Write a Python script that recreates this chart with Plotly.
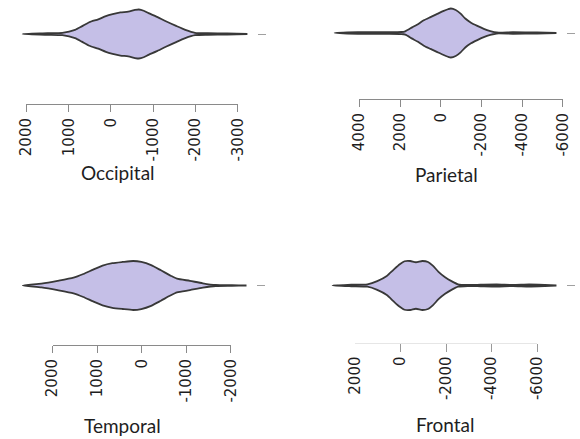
import plotly.graph_objects as go

W, H = 580, 439

# ---------------- data ----------------
region_names = ["Occipital", "Parietal", "Temporal", "Frontal"]

occipital_values = [2090, 1500, 1150, 850, 690, 510, 300, 120, -40, -225, -410, -570,
                    -660, -775, -890, -1075, -1300, -1530, -1760, -1990, -2290, -2750, -3230]
occipital_density = [0, .03, .05, .17, .31, .48, .60, .73, .81, .88, .91, .98,
                     1.0, .95, .85, .71, .52, .34, .17, .05, .03, .02, 0]

parietal_values = [5220, 4080, 2650, 1940, 1750, 1410, 1150, 840, 510, 200, -110, -350,
                   -490, -730, -970, -1200, -1480, -1790, -2110, -2430, -2740, -3540, -4730, -5680]
parietal_density = [0, .03, .03, .04, .07, .23, .35, .52, .65, .77, .89, .97,
                    1.0, .94, .79, .59, .42, .29, .17, .08, .02, .03, .02, 0]

temporal_values = [2670, 2250, 1890, 1530, 1310, 1090, 880, 660, 430, 190, 10, -210,
                   -430, -650, -790, -1080, -1370, -1660, -2020, -2350]
temporal_density = [0, .08, .19, .32, .47, .65, .81, .91, .96, 1.0, .96, .83,
                    .62, .40, .28, .19, .09, .02, .01, 0]

frontal_values = [2980, 2160, 1450, 1020, 600, 310, 30, -180, -430, -680, -960, -1210,
                  -1420, -1670, -1960, -2240, -2530, -2950, -3520, -4230, -4940, -5650, -6350, -6850]
frontal_density = [0, .03, .05, .18, .39, .64, .87, .99, 1.0, .95, 1.0, .96,
                   .81, .56, .34, .18, .05, .02, .03, .04, .02, .04, .02, 0]

occipital_ticks = [2000, 1000, 0, -1000, -2000, -3000]
parietal_ticks = [4000, 2000, 0, -2000, -4000, -6000]
temporal_ticks = [2000, 1000, 0, -1000, -2000]
frontal_ticks = [2000, 0, -2000, -4000, -6000]
frontal_marked_ticks = [0, -2000, -4000, -6000]

# ---------------- layout configuration (pixels) ----------------
panels = [
    dict(name=region_names[0], vals=occipital_values, dens=occipital_density, ticks=occipital_ticks,
         ref=((2000, 18.0), (-3000, 236.0)), dom=(5, 256), cy=34, ay=104, title=(112, 173)),
    dict(name=region_names[1], vals=parietal_values, dens=parietal_density, ticks=parietal_ticks,
         ref=((4000, 361.7), (-6000, 571.7)), dom=(327, 575), cy=33, ay=99, title=(452, 174)),
    dict(name=region_names[2], vals=temporal_values, dens=temporal_density, ticks=temporal_ticks,
         ref=((2000, 45.0), (-2000, 229.0)), dom=(5, 255), cy=285.5, ay=345, title=(117, 425)),
    dict(name=region_names[3], vals=frontal_values, dens=frontal_density, ticks=frontal_ticks,
         ref=((2000, 357.0), (-6000, 545.0)), dom=(325, 575), cy=285.5, ay=342.5, title=(450, 424)),
]

FILL = "#c5bfe7"
LINE = "#383838"
AXIS = "#8a8a8a"
TEXT = "#1e1e1e"
PX_PER_UNIT = 24.5   # half-width pixels for a density of 1
HALF_H = 30          # half height of each violin plotting area (px)

fig = go.Figure()
layout = {}
annotations = []

for i, p in enumerate(panels):
    n = i + 1
    xs, ws = p["vals"], p["dens"]
    poly_x = list(xs) + list(xs[::-1])
    poly_y = list(ws) + [-w for w in ws[::-1]]
    fig.add_trace(go.Scatter(
        x=poly_x, y=poly_y, xaxis=f"x{n}", yaxis=f"y{n}", mode="lines",
        fill="toself", fillcolor=FILL,
        line=dict(color=LINE, width=1.8, shape="spline", smoothing=0.6),
        hoverinfo="skip", showlegend=False))

    (va, pa), (vb, pb) = p["ref"]
    s = (pb - pa) / (va - vb)          # pixels per data unit
    L, R = p["dom"]
    r0 = va + (pa - L) / s
    r1 = va - (R - pa) / s
    layout[f"xaxis{n}"] = dict(domain=[L / W, R / W], range=[r0, r1], anchor=f"y{n}",
                               visible=False, fixedrange=True)
    hh = HALF_H / PX_PER_UNIT
    cy = p["cy"]
    layout[f"yaxis{n}"] = dict(domain=[1 - (cy + HALF_H) / H, 1 - (cy - HALF_H) / H],
                               range=[-hh, hh], anchor=f"x{n}", side="right",
                               showline=False, showgrid=False, zeroline=False,
                               ticks="outside", tickvals=[0], ticklen=8, tickwidth=1,
                               tickcolor="#a0a0a0", showticklabels=False, fixedrange=True)

    # display axis spanning only between extreme ticks
    ticks = p["ticks"]
    p_first = pa + (va - ticks[0]) * s
    p_last = pa + (va - ticks[-1]) * s
    m = 4 + n
    frontal = (p["name"] == "Frontal")
    layout[f"xaxis{m}"] = dict(
        domain=[p_first / W, p_last / W], range=[ticks[0], ticks[-1]],
        anchor="free", position=1 - p["ay"] / H,
        showline=True, linecolor="#e6e6e6" if frontal else AXIS, linewidth=1,
        ticks="outside", ticklen=7, tickwidth=1,
        tickcolor="rgba(0,0,0,0)" if frontal else AXIS,
        tickvals=ticks, ticktext=[str(t) for t in ticks], tickangle=-90,
        tickfont=dict(family="DejaVu Sans", size=15, color=TEXT),
        showgrid=False, zeroline=False, fixedrange=True)
    fig.add_trace(go.Scatter(x=ticks, y=[0] * len(ticks), xaxis=f"x{m}", yaxis=f"y{n}",
                             mode="markers", marker=dict(opacity=0), hoverinfo="skip",
                             showlegend=False))
    if frontal:
        layout["xaxis9"] = dict(
            domain=[p_first / W, p_last / W], range=[ticks[0], ticks[-1]],
            anchor="free", position=1 - p["ay"] / H,
            showline=False, ticks="outside", ticklen=8, tickwidth=1, tickcolor="#9a9a9a",
            tickvals=frontal_marked_ticks, showticklabels=False,
            showgrid=False, zeroline=False, fixedrange=True)
        fig.add_trace(go.Scatter(x=frontal_marked_ticks, y=[0] * len(frontal_marked_ticks),
                                 xaxis="x9", yaxis=f"y{n}", mode="markers",
                                 marker=dict(opacity=0), hoverinfo="skip", showlegend=False))

    tx, ty = p["title"]
    annotations.append(dict(text=p["name"], x=tx / W, y=1 - ty / H, xref="paper", yref="paper",
                            xanchor="center", yanchor="middle", showarrow=False,
                            font=dict(family="Lato", size=19, color=TEXT)))

fig.update_layout(
    width=W, height=H, margin=dict(l=0, r=0, t=0, b=0),
    paper_bgcolor="white", plot_bgcolor="rgba(0,0,0,0)",
    showlegend=False, annotations=annotations, **layout)

fig.write_html("out.html", config={"displayModeBar": False})
